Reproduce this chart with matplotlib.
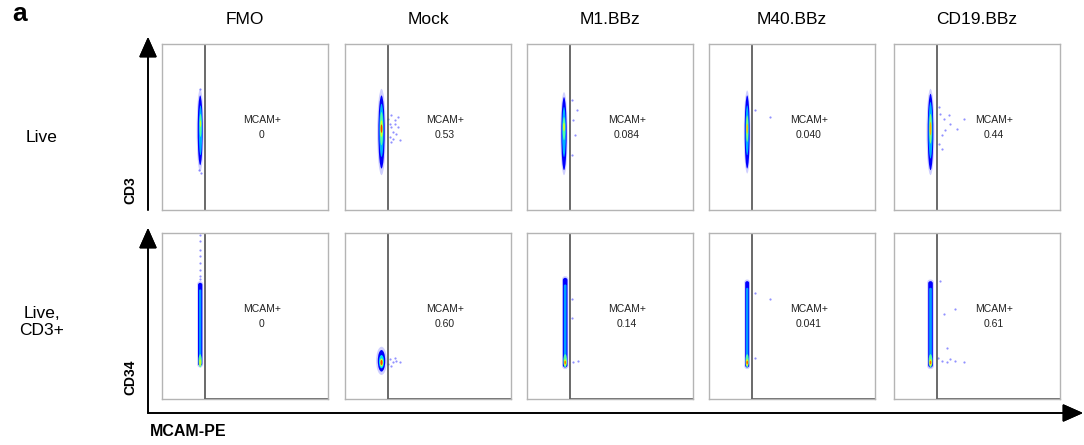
import matplotlib.pyplot as plt
from matplotlib.patches import Ellipse, FancyBboxPatch

plt.rcParams['font.family'] = ['Liberation Sans', 'DejaVu Sans']

SAMPLES = ["FMO", "Mock", "M1.BBz", "M40.BBz", "CD19.BBz"]
ROWS = ["Live", "Live,\nCD3+"]
Y_MARKERS = ["CD3", "CD34"]
X_MARKER = "MCAM-PE"
GATE = 26.0  # MCAM+ gate threshold (axis units 0-100)

MCAM_POS_LIVE = ["0", "0.53", "0.084", "0.040", "0.44"]
MCAM_POS_CD3 = ["0", "0.60", "0.14", "0.041", "0.61"]

# density contours per sample: (shape, x, y, width, height, level)
# shape 'e' = ellipse, 'b' = rounded bar; level None = sparse halo
LIVE_CLOUDS = [
    [('e', 23, 48, 4.2, 50, None), ('e', 23, 48, 3.0, 42, 0.12), ('e', 23.2, 48, 2.0, 30, 0.3),
     ('e', 23.2, 51, 1.3, 14, 0.45), ('e', 23.2, 52, 0.8, 4, 0.6)],
    [('e', 22, 47, 5.2, 52, None), ('e', 22, 47, 3.8, 44, 0.12), ('e', 22, 48, 2.6, 32, 0.3),
     ('e', 22, 49, 2.0, 20, 0.45), ('e', 22, 49, 1.4, 10, 0.62), ('e', 22, 49, 1.0, 5, 0.85)],
    [('e', 22.3, 46, 4.4, 50, None), ('e', 22.3, 46, 3.2, 44, 0.12), ('e', 22.3, 47, 2.2, 30, 0.3),
     ('e', 22.3, 49, 1.6, 14, 0.45), ('e', 22.3, 50, 1.0, 5, 0.62)],
    [('e', 23, 47, 4.0, 50, None), ('e', 23, 47, 3.0, 44, 0.12), ('e', 23, 48, 2.0, 30, 0.3),
     ('e', 23, 49, 1.4, 16, 0.5), ('e', 23, 49, 0.9, 6, 0.7)],
    [('e', 22, 47, 4.8, 52, None), ('e', 22, 47, 3.4, 46, 0.12), ('e', 22, 48, 2.4, 34, 0.3),
     ('e', 22, 49, 1.6, 18, 0.5), ('e', 22, 49, 1.0, 8, 0.72)],
]
CD3_CLOUDS = [
    [('b', 23, 45, 3.6, 52, None), ('b', 23, 45, 2.6, 50, 0.12), ('b', 23, 46, 1.4, 40, 0.28),
     ('e', 23, 23, 2.0, 8, 0.45), ('e', 23, 22, 1.2, 4, 0.6)],
    [('e', 22, 23, 6.5, 17, None), ('e', 22, 23, 4.5, 13, 0.12), ('e', 22, 22.5, 3.0, 8, 0.35),
     ('e', 22, 22, 2.0, 5, 0.6), ('e', 22, 22, 1.2, 3, 0.85)],
    [('b', 23, 46, 3.8, 56, None), ('b', 23, 46, 2.8, 54, 0.12), ('b', 23, 47, 1.6, 44, 0.28),
     ('e', 23, 23, 2.2, 8, 0.45), ('e', 23, 22, 1.4, 4, 0.62), ('e', 23, 22, 0.9, 2, 0.8)],
    [('b', 23, 45, 3.4, 54, None), ('b', 23, 45, 2.4, 52, 0.12), ('b', 23, 46, 1.4, 42, 0.28),
     ('e', 23, 23, 2.0, 8, 0.45), ('e', 23, 22, 1.3, 4, 0.65), ('e', 23, 22, 0.8, 2, 0.85)],
    [('b', 22, 45, 4.0, 54, None), ('b', 22, 45, 2.8, 52, 0.12), ('b', 22, 46, 1.6, 42, 0.28),
     ('e', 22, 23, 2.2, 8, 0.45), ('e', 22, 22, 1.4, 4, 0.65), ('e', 22, 22, 0.9, 2, 0.8)],
]

# scattered single events outside the main populations
LIVE_EVENTS = [
    [(23, 73), (22.5, 24), (23.5, 22)],
    [(28, 57), (30, 54), (32, 50), (29, 47), (27, 44), (33, 42), (30, 52),
     (28, 50), (31, 46), (26, 55), (28, 41), (27, 52), (29, 43), (32, 56)],
    [(27, 66), (30, 60), (28, 54), (27, 33), (29, 45)],
    [(28, 60), (37, 56)],
    [(28, 58), (30, 55), (33, 57), (42, 55), (38, 49), (31, 48), (29, 45),
     (34, 52), (27, 40), (29, 37), (27, 62)],
]
CD3_EVENTS = [
    [(23, 99), (23, 95), (23, 90), (23, 86), (22.8, 82), (23, 78), (23, 74), (23, 72)],
    [(27, 24), (29, 22), (31, 23), (33, 22), (28, 20), (30, 25), (26, 21)],
    [(28, 22), (31, 23), (27, 49), (27, 60)],
    [(28, 64), (37, 60), (28, 25)],
    [(28, 71), (37, 54), (30, 51), (32, 31), (26.5, 25), (32, 22), (37, 23),
     (42, 22), (29, 23), (34, 24)],
]

W, H = 1084, 445
fig = plt.figure(figsize=(W / 100, H / 100), dpi=100)
cmap = plt.get_cmap('jet')

lefts = [162, 345, 527, 709, 894]
bottoms = [210, 399]
size = 166

row_data = [(LIVE_CLOUDS, LIVE_EVENTS, MCAM_POS_LIVE),
            (CD3_CLOUDS, CD3_EVENTS, MCAM_POS_CD3)]

for r, (clouds, events, pcts) in enumerate(row_data):
    for c in range(len(SAMPLES)):
        ax = fig.add_axes([lefts[c] / W, 1 - bottoms[r] / H, size / W, size / H])
        ax.set_xlim(0, 100)
        ax.set_ylim(0, 100)
        ax.set_xticks([])
        ax.set_yticks([])
        for sp in ax.spines.values():
            sp.set_color('#b4b4b4')
            sp.set_linewidth(1.0)

        for shape, x, y, w, h, lev in clouds[c]:
            if lev is None:
                style = dict(facecolor='#a0a0ff', edgecolor='none', alpha=0.5)
            else:
                style = dict(facecolor=cmap(lev), edgecolor='none')
            if shape == 'e':
                p = Ellipse((x, y), w, h, **style)
            else:
                p = FancyBboxPatch((x - w / 2, y - h / 2), w, h,
                                   boxstyle="round,pad=0,rounding_size=%g" % (w / 2), **style)
            ax.add_patch(p)
        ex = [p[0] for p in events[c]]
        ey = [p[1] for p in events[c]]
        ax.scatter(ex, ey, s=2.5, color='#4848ff', alpha=0.6, linewidths=0)

        # gate
        ax.axvline(GATE, color='#505050', lw=1.2)
        if r == 1:
            ax.plot([GATE, 100], [0, 0], color='#505050', lw=1.2, clip_on=False)

        ax.text(60, 54.5, "MCAM+", ha='center', va='center', fontsize=7.5, color='#222222')
        ax.text(60, 45, pcts[c], ha='center', va='center', fontsize=7.5, color='#222222')

        if r == 0:
            fig.text((lefts[c] + size / 2) / W, 1 - 20 / H, SAMPLES[c],
                     ha='center', va='center', fontsize=12.5)

# row labels and marker names
fig.text(42 / W, 1 - 138 / H, ROWS[0], ha='center', va='center', fontsize=12.5)
fig.text(42 / W, 1 - 322 / H, ROWS[1], ha='center', va='center', fontsize=12.5,
         linespacing=1.2)
fig.text(130 / W, 1 - 190 / H, Y_MARKERS[0], ha='center', va='center', fontsize=10,
         fontweight='bold', rotation=90)
fig.text(130 / W, 1 - 377 / H, Y_MARKERS[1], ha='center', va='center', fontsize=10,
         fontweight='bold', rotation=90)
fig.text(150 / W, 1 - 432 / H, X_MARKER, ha='left', va='center', fontsize=11.5,
         fontweight='bold')
fig.text(12 / W, 1 - 14 / H, "a", ha='left', va='center', fontsize=19,
         fontweight='bold')

# axis arrows
arrow = dict(arrowstyle='-|>,head_length=0.9,head_width=0.4', color='black', lw=1.2,
             shrinkA=0, shrinkB=0, mutation_scale=14)
fig.add_artist(plt.annotate('', xy=(148, H - 37), xytext=(148, H - 210),
                            xycoords='figure pixels', arrowprops=arrow))
fig.add_artist(plt.annotate('', xy=(148, H - 228), xytext=(148, H - 413),
                            xycoords='figure pixels', arrowprops=arrow))
fig.add_artist(plt.annotate('', xy=(1083, H - 413), xytext=(148, H - 413),
                            xycoords='figure pixels', arrowprops=arrow))

fig.savefig('out.png', dpi=100)
